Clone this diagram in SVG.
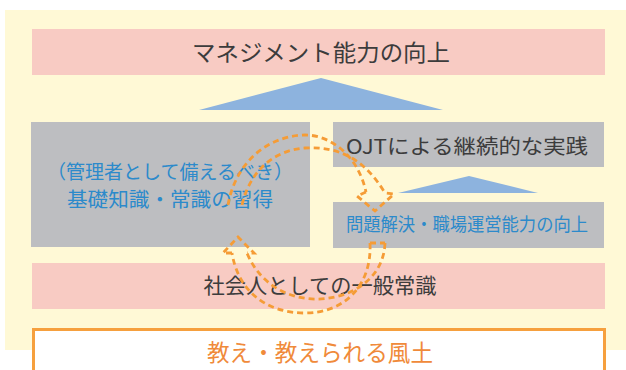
<svg xmlns="http://www.w3.org/2000/svg" width="626" height="370" viewBox="0 0 626 370">
<style>
.t{font-family:"Noto Sans CJK JP","Noto Sans",sans-serif;text-anchor:middle}
.dark{fill:#3c3c3c}
.blue{fill:#2c8acb}
.pink{fill:#f8cbc3}
.gray{fill:#bdbec1}
.tri{fill:#8db3de}
.dash{fill:none;stroke:#f59c36;stroke-width:2.8;stroke-dasharray:6 4}
</style>
<rect x="0" y="0" width="626" height="370" fill="#ffffff"/>
<rect id="background" x="5" y="10" width="621" height="340" fill="#fff9d6"/>
<g id="top-goal">
<rect class="pink" x="32" y="29" width="573" height="46"/>
<text class="t dark" x="321" y="61" font-size="23" textLength="258" lengthAdjust="spacingAndGlyphs">マネジメント能力の向上</text>
</g>
<g id="arrow-big">
<polygon class="tri" points="199,110 321,78 443,110"/>
</g>
<g id="basic-knowledge">
<rect class="gray" x="31" y="122" width="279" height="125"/>
<text class="t blue" x="170" y="179" font-size="19.5" textLength="246" lengthAdjust="spacingAndGlyphs">（管理者として備えるべき）</text>
<text class="t blue" x="170" y="207" font-size="20" textLength="206" lengthAdjust="spacingAndGlyphs">基礎知識・常識の習得</text>
</g>
<g id="ojt">
<rect class="gray" x="333" y="122" width="271" height="45"/>
<text class="t dark" x="467" y="154" font-size="20" textLength="242" lengthAdjust="spacingAndGlyphs">OJTによる継続的な実践</text>
</g>
<g id="arrow-small">
<polygon class="tri" points="398,193 469,176 538,193"/>
</g>
<g id="problem-solving">
<rect class="gray" x="333" y="202" width="271" height="46"/>
<text class="t blue" x="467" y="231" font-size="18.5" textLength="242" lengthAdjust="spacingAndGlyphs">問題解決・職場運営能力の向上</text>
</g>
<g id="common-sense">
<rect class="pink" x="32" y="263" width="573" height="46"/>
<text class="t dark" x="320" y="293" font-size="21" textLength="233" lengthAdjust="spacingAndGlyphs">社会人としての一般常識</text>
</g>
<g id="culture">
<rect x="33.5" y="329.5" width="571" height="60" fill="#ffffff" stroke="#f6a03e" stroke-width="3"/>
<text class="t" x="320" y="361" font-size="23" fill="#f08a3a" textLength="226" lengthAdjust="spacingAndGlyphs">教え・教えられる風土</text>
</g>
<g id="connectors">
<path class="dash" d="M228,205 C235,165 265,136 305,135 C330,135 358,155 366,192"/>
<path class="dash" d="M242,205 C250,170 275,150 305,148 C340,146 365,160 385,193"/>
<path class="dash" d="M366,192 L357,196 L375,211 L394,194 L385,193"/>
<path class="dash" d="M370,243 C372,285 345,313 305,313 C265,313 238,290 232,253"/>
<path class="dash" d="M385,243 C384,270 365,290 335,297 C300,305 262,290 247,253"/>
<path class="dash" d="M370,243 L385,243"/>
<path class="dash" d="M232,253 L223,253 L238,237 L254,253 L247,253"/>
</g>
</svg>
